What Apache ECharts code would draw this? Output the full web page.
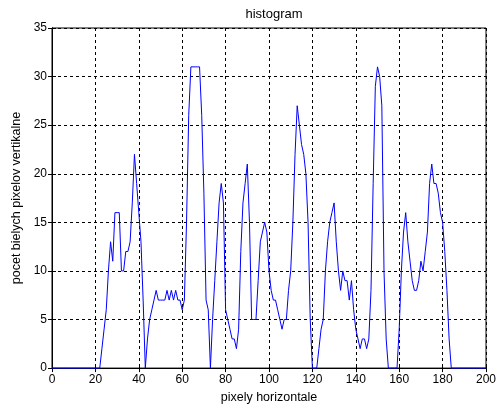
<!DOCTYPE html>
<html>
<head>
<meta charset="utf-8">
<script src="https://cdn.jsdelivr.net/npm/echarts@6/dist/echarts.min.js"></script>
<style>
  html, body { margin: 0; padding: 0; background: #fff; }
  #chart { width: 501px; height: 409px; }
</style>
</head>
<body>
<div id="chart"></div>
<script>
// White-pixel counts per horizontal pixel column (column index = array index, 0..200)
const counts = [
  0, 0, 0, 0, 0, 0, 0, 0, 0, 0,
  0, 0, 0, 0, 0, 0, 0, 0, 0, 0,
  0, 0, 0,
  2, 4, 6, 10, 13, 11, 16, 16, 16, 10,
  10, 12, 12, 13, 17, 22, 19, 16, 13, 7,
  0, 3, 5, 6, 7, 8, 7, 7, 7, 7,
  8, 7, 8, 7, 8, 7, 7, 6, 7, 15,
  26, 31, 31, 31, 31, 31, 26, 18, 7, 6,
  0, 5, 9, 13, 17, 19, 17, 6, 5, 4,
  3, 3, 2, 4, 12, 17, 19, 21, 15, 5,
  5, 5, 9, 13, 14, 15, 14, 10, 8, 7,
  7, 6, 5, 4, 5, 5, 8, 10, 15, 22,
  27, 25, 23, 22, 20, 15, 5, 0, 0, 0,
  2, 4, 5, 10, 13, 15, 16, 17, 13, 10,
  8, 10, 9, 9, 7, 9, 6, 4, 3, 2,
  3, 3, 2, 3, 8, 19, 29, 31, 30, 27,
  10, 3, 0, 0, 0, 0, 0, 4, 10, 14,
  16, 13, 11, 9, 8, 8, 9, 11, 10, 12,
  14, 19, 21, 19, 19, 18, 16, 15, 12, 8,
  3, 0, 0, 0, 0, 0, 0, 0, 0, 0,
  0, 0, 0, 0, 0, 0, 0, 0
];

// Axis ranges and tick labels
const xTicks = [0, 20, 40, 60, 80, 100, 120, 140, 160, 180, 200];
const yTicks = [0, 5, 10, 15, 20, 25, 30, 35];

const titleText = 'histogram';
const xName = 'pixely horizontale';
const yName = 'pocet bielych pixelov vertikalne';

const FONT = '"Liberation Sans", Arial, sans-serif';

const chart = echarts.init(document.getElementById('chart'), null, { renderer: 'canvas' });

const dashed = { show: true, lineStyle: { color: '#000', width: 1, type: [3, 3] } };
const tick = { show: true, inside: true, length: 4, lineStyle: { color: '#000' } };
const axisLine = { show: true, lineStyle: { color: '#000', width: 1 } };

chart.setOption({
  animation: false,
  backgroundColor: '#fff',
  title: {
    text: titleText,
    left: 269,
    textAlign: 'center',
    top: 3,
    textStyle: { fontFamily: FONT, fontSize: 13, fontWeight: 'normal', color: '#000' }
  },
  grid: {
    left: 52, right: 15, top: 28, bottom: 38,
    show: true, borderColor: '#000', borderWidth: 1, backgroundColor: '#fff'
  },
  xAxis: [
    {
      type: 'value',
      min: xTicks[0], max: xTicks[xTicks.length - 1], interval: xTicks[1] - xTicks[0],
      position: 'bottom',
      name: xName, nameLocation: 'middle', nameGap: 20,
      nameTextStyle: { fontFamily: FONT, fontSize: 12.5, color: '#000' },
      axisLine, axisTick: tick,
      axisLabel: { fontFamily: FONT, fontSize: 12, color: '#000', margin: 6 },
      splitLine: dashed
    },
    {
      type: 'value',
      min: xTicks[0], max: xTicks[xTicks.length - 1], interval: xTicks[1] - xTicks[0],
      position: 'top',
      axisLine, axisTick: tick,
      axisLabel: { show: false },
      splitLine: { show: false }
    }
  ],
  yAxis: [
    {
      type: 'value',
      min: yTicks[0], max: yTicks[yTicks.length - 1], interval: yTicks[1] - yTicks[0],
      position: 'left',
      name: yName, nameLocation: 'middle', nameGap: 28,
      nameTextStyle: { fontFamily: FONT, fontSize: 12.5, color: '#000' },
      axisLine, axisTick: tick,
      axisLabel: { fontFamily: FONT, fontSize: 12, color: '#000', margin: 5 },
      splitLine: dashed
    },
    {
      type: 'value',
      min: yTicks[0], max: yTicks[yTicks.length - 1], interval: yTicks[1] - yTicks[0],
      position: 'right',
      axisLine, axisTick: tick,
      axisLabel: { show: false },
      splitLine: { show: false }
    }
  ],
  series: [
    {
      type: 'line',
      xAxisIndex: 0,
      yAxisIndex: 0,
      data: counts.map((v, i) => [i, v]),
      showSymbol: false,
      smooth: false,
      clip: false,
      z: 5,
      lineStyle: { color: '#0000ff', width: 1 }
    }
  ]
});
</script>
</body>
</html>
